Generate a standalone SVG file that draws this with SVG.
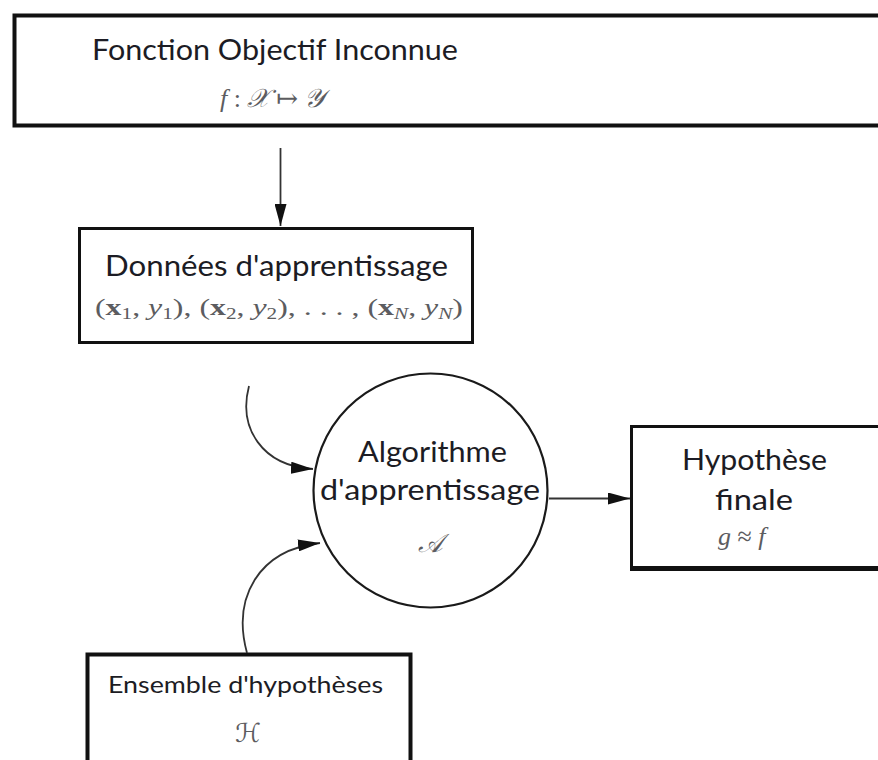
<svg xmlns="http://www.w3.org/2000/svg" width="878" height="760" viewBox="0 0 878 760">
<style>
.box{fill:#fff;stroke:#111;stroke-width:3.5}
.lbl{font-family:Lato,"Open Sans","Noto Sans",sans-serif;fill:#1c1c24}
.math{font-family:"Liberation Serif","DejaVu Serif",serif;fill:#5c5c60;font-style:italic}
.scr{font-family:"DejaVu Serif","DejaVu Sans","Noto Sans",serif;fill:#5c5c60;font-style:italic}
.bx{font-weight:bold;font-style:normal}
.con{fill:none;stroke:#333;stroke-width:1.8}
</style>
<defs>
<marker id="ah" markerUnits="userSpaceOnUse" markerWidth="22" markerHeight="12" refX="22" refY="6" orient="auto">
<path d="M0,0 L22,6 L0,12 z" fill="#111"/>
</marker>
</defs>
<rect width="878" height="760" fill="#fff"/>

<g id="objectif">
<rect class="box" x="14.5" y="15.5" width="900" height="110" style="stroke-width:4"/>
<text class="lbl" x="92" y="60" font-size="28" textLength="366" lengthAdjust="spacingAndGlyphs">Fonction Objectif Inconnue</text>
<text class="math" x="220" y="107" font-size="26"><tspan>f</tspan><tspan font-style="normal"> : </tspan><tspan class="scr">𝒳</tspan><tspan font-style="normal"> ↦ </tspan><tspan class="scr">𝒴</tspan></text>
</g>

<g id="donnees">
<rect class="box" x="79.5" y="228.5" width="393" height="114" style="stroke-width:3"/>
<text class="lbl" x="105" y="276" font-size="28" textLength="343" lengthAdjust="spacingAndGlyphs">Données d'apprentissage</text>
<text class="math" x="95" y="315" font-size="24" textLength="368" lengthAdjust="spacingAndGlyphs"><tspan font-style="normal">(</tspan><tspan class="bx">x</tspan><tspan font-style="normal" font-size="16" dy="4">1</tspan><tspan font-style="normal" dy="-4">, </tspan><tspan>y</tspan><tspan font-style="normal" font-size="16" dy="4">1</tspan><tspan font-style="normal" dy="-4">), (</tspan><tspan class="bx">x</tspan><tspan font-style="normal" font-size="16" dy="4">2</tspan><tspan font-style="normal" dy="-4">, </tspan><tspan>y</tspan><tspan font-style="normal" font-size="16" dy="4">2</tspan><tspan font-style="normal" dy="-4">), . . . , (</tspan><tspan class="bx">x</tspan><tspan font-size="16" dy="4">N</tspan><tspan font-style="normal" dy="-4">, </tspan><tspan>y</tspan><tspan font-size="16" dy="4">N</tspan><tspan font-style="normal" dy="-4">)</tspan></text>
</g>

<g id="algorithme">
<circle cx="430.5" cy="490.5" r="117" fill="#fff" stroke="#1a1a1a" stroke-width="2.2"/>
<text class="lbl" x="358" y="462" font-size="28" textLength="149" lengthAdjust="spacingAndGlyphs">Algorithme</text>
<text class="lbl" x="320" y="500" font-size="28" textLength="220" lengthAdjust="spacingAndGlyphs">d'apprentissage</text>
<text class="scr" x="430" y="552" font-size="26" text-anchor="middle">𝒜</text>
</g>

<g id="hypothese">
<rect class="box" x="631.5" y="426.5" width="280" height="141" style="stroke-width:3"/>
<line x1="630" y1="569.5" x2="878" y2="569.5" stroke="#111" stroke-width="3"/>
<text class="lbl" x="682" y="470" font-size="28" textLength="145" lengthAdjust="spacingAndGlyphs">Hypothèse</text>
<text class="lbl" x="715" y="510" font-size="28" textLength="78" lengthAdjust="spacingAndGlyphs">finale</text>
<text class="math" x="718" y="545" font-size="26"><tspan>g</tspan><tspan font-style="normal"> ≈ </tspan><tspan>f</tspan></text>
</g>

<g id="ensemble">
<rect class="box" x="87.5" y="654.5" width="323" height="130" style="stroke-width:4"/>
<text class="lbl" x="108" y="693" font-size="23" textLength="275" lengthAdjust="spacingAndGlyphs">Ensemble d'hypothèses</text>
<text class="scr" x="248" y="742" font-size="26" text-anchor="middle">ℋ</text>
</g>

<g id="connectors">
<line class="con" x1="280.5" y1="148" x2="280.5" y2="226" marker-end="url(#ah)"/>
<line class="con" x1="549" y1="498.5" x2="630" y2="498.5" marker-end="url(#ah)"/>
<path class="con" d="M249,386 C238,428 262,466 313,469" marker-end="url(#ah)"/>
<path class="con" d="M247,653 C232,598 258,550 320,543" marker-end="url(#ah)"/>
</g>
</svg>
